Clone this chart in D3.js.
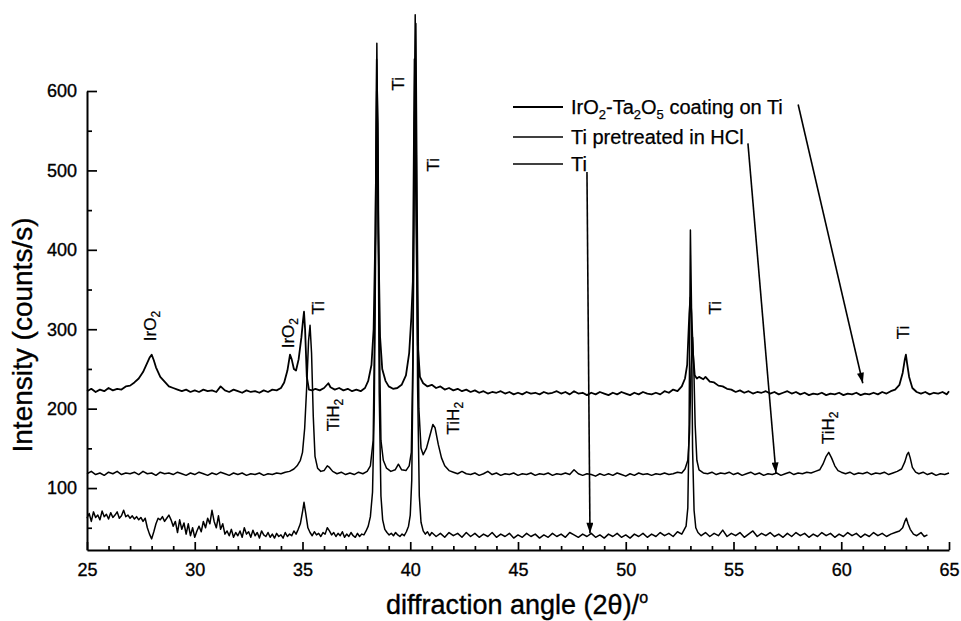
<!DOCTYPE html>
<html><head><meta charset="utf-8">
<script src="https://cdn.jsdelivr.net/npm/d3@7"></script>
<style>
body{margin:0;background:#fff}
svg{display:block}
text{font-family:"Liberation Sans",Arial,Helvetica,sans-serif;fill:#000}
</style>
</head><body>
<svg id="chart" width="961" height="621"></svg>
<script>
// ---------------- data ----------------
const xTicks = [25, 30, 35, 40, 45, 50, 55, 60, 65];
const xMinorTicks = [26, 27, 28, 29, 31, 32, 33, 34, 36, 37, 38, 39, 41, 42, 43, 44, 46, 47, 48, 49,
                     51, 52, 53, 54, 56, 57, 58, 59, 61, 62, 63, 64];
const yTicks = [100, 200, 300, 400, 500, 600];
const yMinorTicks = [50, 150, 250, 350, 450, 550];
const seriesNames = ["IrO_2-Ta_2O_5 coating on Ti", "Ti pretreated in HCl", "Ti"];

const coating = [
[25.0,222],[25.2,225],[25.4,221],[25.6,224],[25.8,222],[26.0,226],[26.2,223],[26.4,225],[26.6,224],[26.8,228],
[27.0,229],[27.2,233],[27.4,238],[27.6,246],[27.8,258],[27.9,264],[28.0,268],[28.1,261],[28.2,252],[28.4,240],
[28.6,234],[28.8,228],[29.0,226],[29.2,224],[29.4,222],[29.6,224],[29.8,221],[30.0,223],[30.2,221],[30.4,224],
[30.6,222],[30.8,223],[31.0,221],[31.2,228],[31.4,223],[31.6,221],[31.8,224],[32.0,222],[32.2,220],[32.4,223],
[32.6,221],[32.8,222],[33.0,220],[33.2,223],[33.4,221],[33.6,224],[33.8,223],[34.0,226],[34.15,233],[34.3,248],
[34.42,268],[34.5,262],[34.6,250],[34.7,248],[34.82,262],[34.95,290],[35.02,310],[35.07,322],[35.12,300],[35.2,240],
[35.3,224],[35.45,223],[35.6,225],[35.8,223],[36.0,226],[36.2,232],[36.3,227],[36.5,224],[36.7,226],[36.9,223],
[37.1,225],[37.3,222],[37.5,224],[37.7,222],[37.9,226],[38.05,235],[38.2,255],[38.3,300],[38.38,420],[38.45,600],
[38.52,420],[38.6,290],[38.7,250],[38.85,235],[39.0,228],[39.2,225],[39.4,226],[39.6,230],[39.8,242],[39.95,270],
[40.05,315],[40.12,360],[40.2,640],[40.28,430],[40.35,280],[40.45,240],[40.6,232],[40.8,228],[41.0,230],[41.2,226],
[41.4,228],[41.6,224],[41.8,226],[42.0,223],[42.2,225],[42.4,222],[42.6,224],[42.8,221],[43.0,223],[43.2,220],
[43.4,222],[43.6,219],[43.8,221],[44.0,220],[44.2,222],[44.4,219],[44.6,221],[44.8,218],[45.0,220],[45.2,218],
[45.4,221],[45.6,219],[45.8,220],[46.0,218],[46.2,221],[46.4,219],[46.6,220],[46.8,222],[47.0,219],[47.2,221],
[47.4,218],[47.6,222],[47.8,219],[48.0,220],[48.2,217],[48.4,220],[48.6,218],[48.8,221],[49.0,219],[49.2,217],
[49.4,220],[49.6,218],[49.8,221],[50.0,219],[50.2,217],[50.4,220],[50.6,218],[50.8,221],[51.0,219],[51.2,218],
[51.4,220],[51.6,218],[51.8,222],[52.0,220],[52.2,224],[52.4,222],[52.6,228],[52.75,238],[52.85,255],[52.95,320],
[53.0,340],[53.05,320],[53.12,270],[53.2,242],[53.3,238],[53.4,240],[53.6,237],[53.7,240],[53.9,234],[54.1,233],
[54.3,229],[54.5,228],[54.7,225],[54.9,224],[55.1,221],[55.3,223],[55.5,220],[55.7,222],[55.9,219],[56.1,221],
[56.3,220],[56.5,222],[56.7,219],[56.9,221],[57.1,218],[57.3,220],[57.5,222],[57.7,219],[57.9,221],[58.1,218],
[58.3,220],[58.5,217],[58.7,219],[58.9,218],[59.1,220],[59.3,217],[59.5,219],[59.7,218],[59.9,220],[60.1,217],
[60.3,219],[60.5,218],[60.7,220],[60.9,217],[61.1,219],[61.3,218],[61.5,220],[61.7,218],[61.9,221],[62.1,219],
[62.3,222],[62.5,224],[62.7,230],[62.85,245],[62.95,262],[63.0,268],[63.05,258],[63.15,240],[63.3,226],[63.5,221],
[63.7,219],[63.9,221],[64.1,218],[64.3,220],[64.5,219],[64.7,221],[64.9,218],[65.0,222]
];

const hclTreated = [
[25.0,118],[25.2,121],[25.4,117],[25.6,119],[25.8,116],[26.0,120],[26.2,118],[26.4,121],[26.6,117],[26.8,119],
[27.0,118],[27.2,120],[27.4,117],[27.6,121],[27.8,118],[28.0,119],[28.2,116],[28.4,120],[28.6,118],[28.8,119],
[29.0,117],[29.2,120],[29.4,118],[29.6,116],[29.8,119],[30.0,117],[30.2,120],[30.4,118],[30.6,116],[30.8,119],
[31.0,117],[31.2,120],[31.4,118],[31.6,116],[31.8,119],[32.0,117],[32.2,119],[32.4,116],[32.6,118],[32.8,117],
[33.0,119],[33.2,116],[33.4,118],[33.6,117],[33.8,119],[34.0,118],[34.2,120],[34.4,121],[34.6,124],[34.75,128],
[34.9,135],[35.0,145],[35.1,175],[35.2,230],[35.28,285],[35.35,305],[35.42,270],[35.5,190],[35.58,140],[35.7,125],
[35.85,121],[36.0,122],[36.15,128],[36.25,126],[36.4,121],[36.6,118],[36.8,120],[37.0,117],[37.2,119],[37.4,117],
[37.6,120],[37.8,118],[38.0,121],[38.15,128],[38.28,160],[38.36,330],[38.44,640],[38.5,560],[38.56,300],[38.64,160],
[38.75,135],[38.9,125],[39.1,121],[39.3,123],[39.45,130],[39.6,123],[39.8,122],[39.95,128],[40.05,145],[40.12,260],
[40.2,560],[40.26,685],[40.32,450],[40.4,200],[40.5,150],[40.6,142],[40.75,150],[40.9,165],[41.05,180],[41.15,176],
[41.3,155],[41.45,138],[41.6,128],[41.8,122],[42.0,120],[42.2,118],[42.4,121],[42.6,118],[42.8,117],[43.0,119],
[43.2,116],[43.4,118],[43.6,121],[43.8,117],[44.0,119],[44.2,116],[44.4,118],[44.6,117],[44.8,119],[45.0,116],
[45.2,118],[45.4,117],[45.6,119],[45.8,116],[46.0,118],[46.2,117],[46.4,119],[46.6,116],[46.8,118],[47.0,117],
[47.2,119],[47.4,117],[47.6,123],[47.8,118],[48.0,116],[48.2,118],[48.4,117],[48.6,115],[48.8,118],[49.0,116],
[49.2,118],[49.4,116],[49.6,119],[49.8,117],[50.0,115],[50.2,118],[50.4,116],[50.6,119],[50.8,117],[51.0,118],
[51.2,116],[51.4,118],[51.6,117],[51.8,119],[52.0,117],[52.2,118],[52.4,120],[52.6,119],[52.75,124],[52.88,135],
[52.96,170],[53.03,250],[53.1,290],[53.16,250],[53.22,180],[53.3,135],[53.4,123],[53.6,119],[53.8,118],[54.0,120],
[54.2,117],[54.4,119],[54.6,118],[54.8,120],[55.0,117],[55.2,119],[55.4,116],[55.6,118],[55.8,120],[56.0,117],
[56.2,119],[56.4,116],[56.6,118],[56.8,117],[57.0,119],[57.2,116],[57.4,118],[57.6,120],[57.8,117],[58.0,119],
[58.2,118],[58.4,120],[58.6,119],[58.8,121],[59.0,123],[59.15,130],[59.3,140],[59.42,145],[59.55,138],[59.7,128],
[59.85,122],[60.0,120],[60.2,118],[60.4,120],[60.6,117],[60.8,119],[61.0,118],[61.2,120],[61.4,117],[61.6,119],
[61.8,118],[62.0,120],[62.2,117],[62.4,119],[62.6,121],[62.8,124],[62.95,133],[63.05,142],[63.12,145],[63.2,138],
[63.3,126],[63.45,120],[63.6,118],[63.8,120],[64.0,117],[64.2,119],[64.4,116],[64.6,118],[64.8,117],[65.0,119]
];

const titanium = [
[25.0,62],[25.1,68],[25.2,58],[25.3,70],[25.4,63],[25.5,66],[25.6,60],[25.7,71],[25.8,64],[25.9,67],
[26.0,61],[26.1,69],[26.2,63],[26.3,66],[26.4,70],[26.5,62],[26.6,65],[26.7,72],[26.8,64],[26.9,66],
[27.0,62],[27.1,65],[27.2,61],[27.3,64],[27.4,60],[27.5,63],[27.6,58],[27.7,62],[27.8,50],[27.9,42],
[28.0,36],[28.1,45],[28.2,55],[28.3,62],[28.4,60],[28.5,64],[28.6,58],[28.7,62],[28.8,66],[28.9,60],
[29.0,52],[29.1,58],[29.2,44],[29.3,60],[29.4,48],[29.5,56],[29.6,42],[29.7,55],[29.8,40],[29.9,50],
[30.0,38],[30.1,46],[30.2,52],[30.3,45],[30.4,58],[30.5,50],[30.6,62],[30.7,55],[30.8,72],[30.9,58],
[31.0,50],[31.1,65],[31.2,48],[31.3,55],[31.4,42],[31.5,46],[31.6,40],[31.7,48],[31.8,38],[31.9,44],
[32.0,40],[32.1,46],[32.2,38],[32.3,50],[32.4,42],[32.5,45],[32.6,38],[32.7,47],[32.8,40],[32.9,44],
[33.0,37],[33.1,46],[33.2,41],[33.3,39],[33.4,44],[33.5,38],[33.6,42],[33.7,37],[33.8,43],[33.9,39],
[34.0,41],[34.1,37],[34.2,44],[34.3,39],[34.4,42],[34.5,40],[34.6,46],[34.7,42],[34.8,48],[34.9,55],
[35.0,70],[35.07,82],[35.15,68],[35.25,50],[35.35,44],[35.45,40],[35.55,45],[35.65,41],[35.75,43],[35.85,39],
[35.95,44],[36.05,42],[36.15,50],[36.25,46],[36.35,41],[36.45,44],[36.55,39],[36.65,43],[36.75,40],[36.85,45],
[36.95,38],[37.05,42],[37.15,39],[37.25,44],[37.35,40],[37.45,38],[37.55,43],[37.65,39],[37.75,42],[37.85,41],
[37.95,46],[38.05,52],[38.15,64],[38.25,95],[38.33,200],[38.4,420],[38.45,660],[38.5,500],[38.56,220],[38.64,90],
[38.72,60],[38.82,48],[38.92,44],[39.02,41],[39.12,43],[39.22,40],[39.32,44],[39.42,41],[39.52,39],[39.62,42],
[39.72,40],[39.82,45],[39.92,52],[40.0,66],[40.07,110],[40.13,260],[40.19,560],[40.23,696],[40.28,520],[40.34,230],
[40.42,90],[40.5,57],[40.6,46],[40.7,42],[40.8,45],[40.9,40],[41.0,44],[41.2,39],[41.4,43],[41.6,38],
[41.8,44],[42.0,40],[42.2,43],[42.4,38],[42.6,44],[42.8,39],[43.0,43],[43.2,38],[43.4,42],[43.6,39],
[43.8,44],[44.0,38],[44.2,42],[44.4,39],[44.6,43],[44.8,37],[45.0,41],[45.2,38],[45.4,43],[45.6,39],
[45.8,42],[46.0,37],[46.2,41],[46.4,38],[46.6,43],[46.8,39],[47.0,42],[47.2,38],[47.4,44],[47.6,41],
[47.8,38],[48.0,42],[48.2,39],[48.4,43],[48.6,38],[48.8,41],[49.0,37],[49.2,42],[49.4,39],[49.6,43],
[49.8,38],[50.0,41],[50.2,37],[50.4,42],[50.6,39],[50.8,43],[51.0,38],[51.2,42],[51.4,39],[51.6,44],
[51.8,40],[52.0,43],[52.2,39],[52.4,45],[52.6,42],[52.7,47],[52.8,52],[52.88,75],[52.94,180],[53.0,425],
[53.05,330],[53.1,150],[53.17,72],[53.25,50],[53.35,44],[53.5,40],[53.7,44],[53.9,39],[54.1,43],[54.3,40],
[54.5,47],[54.7,39],[54.9,43],[55.1,40],[55.3,44],[55.5,38],[55.7,42],[55.9,46],[56.1,39],[56.3,43],
[56.5,40],[56.7,44],[56.9,39],[57.1,42],[57.3,38],[57.5,43],[57.7,39],[57.9,44],[58.1,40],[58.3,43],
[58.5,38],[58.7,42],[58.9,39],[59.1,44],[59.3,40],[59.5,43],[59.7,38],[59.9,42],[60.1,39],[60.3,44],
[60.5,40],[60.7,43],[60.9,38],[61.1,42],[61.3,39],[61.5,44],[61.7,40],[61.9,43],[62.1,39],[62.3,42],
[62.5,44],[62.7,46],[62.85,50],[62.95,58],[63.02,62],[63.1,55],[63.2,48],[63.35,42],[63.5,40],[63.7,44],
[63.85,39],[64.0,41]
];

// peak annotations: [text, angle, intensity]
const peakLabels = [
["IrO_2", 27.92, 304], ["IrO_2", 34.33, 295], ["Ti", 35.72, 327],
["Ti", 39.43, 609], ["Ti", 41.06, 507], ["TiH_2", 36.42, 192],
["TiH_2", 41.98, 188], ["Ti", 54.14, 327], ["TiH_2", 59.39, 176], ["Ti", 62.87, 296]
];

// legend-to-curve arrows: [startAngle, startIntensity, endAngle, endIntensity]
const arrows = [
[58.0, 583, 61.0, 232],
[55.67, 534, 56.97, 119],
[48.2, 498, 48.34, 43]
];

// ---------------- drawing ----------------
const svg = d3.select("#chart");
const x = d3.scaleLinear().domain([25, 65]).range([87, 949]);
const y = d3.scaleLinear().domain([22, 600]).range([550, 91]);

svg.append("defs").append("marker")
  .attr("id", "ah").attr("viewBox", "0 0 12 8").attr("refX", 12).attr("refY", 4)
  .attr("markerWidth", 12).attr("markerHeight", 7).attr("markerUnits", "userSpaceOnUse")
  .attr("orient", "auto")
  .append("path").attr("d", "M0,0 L12,4 L0,8 Z").attr("fill", "#000");

// text with numeric subscripts written as _n
function richText(sel, str, subSize, shift) {
  const parts = str.split(/_(\d)/);
  let pending = 0;
  parts.forEach((p, i) => {
    if (p === "") return;
    if (i % 2 === 1) {
      sel.append("tspan").attr("font-size", subSize).attr("dy", shift - pending).text(p);
      pending = shift;
    } else {
      const t = sel.append("tspan").text(p);
      if (pending) { t.attr("dy", -pending); pending = 0; }
    }
  });
}

const textStroke = 0.35;

// axes
svg.append("g").attr("transform", "translate(0,550)")
  .call(d3.axisBottom(x).tickValues(xTicks).tickSize(-8).tickSizeOuter(0).tickPadding(13).tickFormat(d3.format("d")));
const xm = svg.append("g").attr("transform", "translate(0,550)")
  .call(d3.axisBottom(x).tickValues(xMinorTicks).tickSize(-4).tickSizeOuter(0));
xm.select(".domain").remove(); xm.selectAll("text").remove();
svg.append("g").attr("transform", "translate(87,0)")
  .call(d3.axisLeft(y).tickValues(yTicks).tickSize(-10).tickSizeOuter(0).tickPadding(10).tickFormat(d3.format("d")));
const ym = svg.append("g").attr("transform", "translate(87,0)")
  .call(d3.axisLeft(y).tickValues(yMinorTicks).tickSize(-5).tickSizeOuter(0));
ym.select(".domain").remove(); ym.selectAll("text").remove();

svg.selectAll(".domain").attr("stroke", "#000").attr("stroke-width", 2);
svg.selectAll(".tick line").attr("stroke", "#000").attr("stroke-width", 1.7);
svg.selectAll(".tick text").attr("font-size", 18).attr("font-family", '"Liberation Sans",Arial,sans-serif')
  .attr("fill", "#000").attr("stroke", "#000").attr("stroke-width", textStroke);

// axis titles
const xt = svg.append("text").attr("x", 517).attr("y", 614).attr("text-anchor", "middle").attr("font-size", 27)
  .attr("stroke", "#000").attr("stroke-width", textStroke);
xt.append("tspan").text("diffraction angle (2\u03B8)/");
xt.append("tspan").attr("font-size", 16).attr("dy", -11).text("o");
svg.append("text").attr("transform", "translate(32,335) rotate(-90)").attr("text-anchor", "middle")
  .attr("font-size", 28).attr("stroke", "#000").attr("stroke-width", textStroke).text("Intensity (counts/s)");

// series
const line = d3.line().x(d => x(d[0])).y(d => y(d[1]));
const seriesData = [coating, hclTreated, titanium];
const widths = [1.8, 1.5, 1.5];
seriesData.forEach((s, i) => {
  svg.append("path").datum(s).attr("d", line).attr("fill", "none")
    .attr("stroke", "#000").attr("stroke-width", widths[i]).attr("stroke-linejoin", "round");
});

// legend
const legendRows = [107, 137, 164];
seriesNames.forEach((n, i) => {
  svg.append("line").attr("x1", 513).attr("x2", 563).attr("y1", legendRows[i]).attr("y2", legendRows[i])
    .attr("stroke", "#000").attr("stroke-width", i === 0 ? 2.2 : 1.5);
  const t = svg.append("text").attr("x", 571).attr("y", legendRows[i] + 7).attr("font-size", 20)
    .attr("stroke", "#000").attr("stroke-width", 0.25);
  richText(t, n, 13, 5);
});

// arrows
arrows.forEach(a => {
  svg.append("line").attr("x1", x(a[0])).attr("y1", y(a[1])).attr("x2", x(a[2])).attr("y2", y(a[3]))
    .attr("stroke", "#000").attr("stroke-width", 1.6).attr("marker-end", "url(#ah)");
});

// peak labels (rotated)
peakLabels.forEach(p => {
  const t = svg.append("text")
    .attr("transform", `translate(${x(p[1])},${y(p[2])}) rotate(-90)`)
    .attr("text-anchor", "middle").attr("dy", "0.35em").attr("font-size", 17)
    .attr("stroke", "#000").attr("stroke-width", 0.25);
  richText(t, p[0], 12, 4);
});
</script>
</body></html>
